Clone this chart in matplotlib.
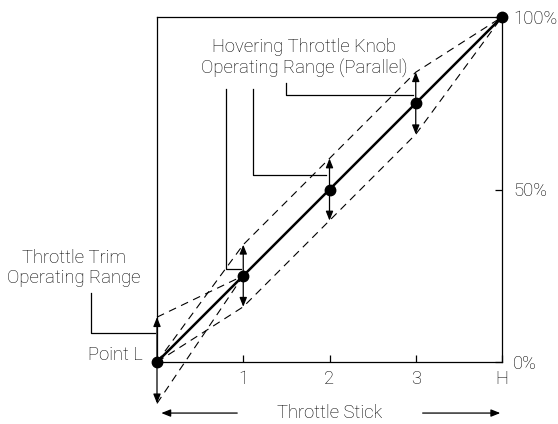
import numpy as np
import matplotlib
matplotlib.use("Agg")
import matplotlib.pyplot as plt

plt.rcParams['font.family'] = ['Roboto', 'DejaVu Sans']
plt.rcParams['font.weight'] = 'light'

# throttle curve points (stick position -> throttle %)
stick = [0, 1, 2, 3, 4]
stick_labels = ['', '1', '2', '3', 'H']
throttle = [0, 25, 50, 75, 100]
hover_hi = [0, 34, 59, 84, 100]
hover_lo = [0, 16, 41, 66, 100]
trim_x = [0, 1]
trim_hi = [13, 25]
trim_lo = [-12, 25]
y_ticks = [0, 50, 100]
y_labels = ['0%', '50%', '100%']

fig = plt.figure(figsize=(5.58, 4.24), dpi=100)
ax = fig.add_axes([157/558, 1 - 362/424, 345/558, 345/424])
ax.set_xlim(0, 4)
ax.set_ylim(0, 100)

for s in ax.spines.values():
    s.set_linewidth(0.9)

dash = dict(color='k', lw=0.8, ls=(0, (7, 5)), clip_on=False)
ax.plot(stick, hover_hi, **dash)
ax.plot(stick, hover_lo, **dash)
ax.plot(trim_x, trim_hi, **dash)
ax.plot(trim_x, trim_lo, **dash)

ax.plot(stick, throttle, color='k', lw=1.8, clip_on=False, zorder=4)
ax.plot(stick, throttle, 'o', color='k', ms=7.5, clip_on=False, zorder=5)

def arrow(x0, y0, x1, y1):
    ax.annotate('', xy=(x1, y1), xytext=(x0, y0), annotation_clip=False,
                arrowprops=dict(arrowstyle='-|>,head_length=0.5,head_width=0.2',
                                color='k', lw=0.9, shrinkA=0, shrinkB=0,
                                mutation_scale=11))

for i in (1, 2, 3):
    arrow(stick[i], throttle[i], stick[i], hover_hi[i])
    arrow(stick[i], throttle[i], stick[i], hover_lo[i])
arrow(0, 0, 0, trim_hi[0])
arrow(0, 0, 0, trim_lo[0])

# leader lines
lk = dict(color='k', lw=0.9, clip_on=False)
ax.plot([1.49, 1.49, 2.965], [80.9, 77.4, 77.4], **lk)
ax.plot([1.116, 1.116, 1.965], [79.1, 54.2, 54.2], **lk)
ax.plot([0.802, 0.802, 0.977], [79.1, 27.0, 27.0], **lk)
ax.plot([-0.767, -0.767, -0.02], [20.0, 8.4, 8.4], **lk)

fs = 13.3
ax.text(1.71, 88.3, 'Hovering Throttle Knob\nOperating Range (Parallel)',
        ha='center', va='center', fontsize=fs, linespacing=1.15)
ax.text(-0.965, 27.2, 'Throttle Trim\nOperating Range', ha='center',
        va='center', fontsize=fs, linespacing=1.15, clip_on=False)
ax.text(-0.17, 2, 'Point L', ha='right', va='center', fontsize=fs)

ax.set_xticks(stick[1:])
ax.set_xticklabels(stick_labels[1:], fontsize=fs)
ax.tick_params(axis='x', direction='in', length=5, width=0.9, pad=6)
ax.yaxis.tick_right()
ax.set_yticks(y_ticks)
ax.set_yticklabels(y_labels, fontsize=fs)
ax.tick_params(axis='y', direction='in', length=5, width=0.9, pad=8)

ax.text(2, -14.8, 'Throttle Stick', ha='center', va='center', fontsize=fs)
arrow(0.93, -14.8, 0.05, -14.8)
arrow(3.08, -14.8, 3.98, -14.8)

fig.savefig('out.png', dpi=100)
